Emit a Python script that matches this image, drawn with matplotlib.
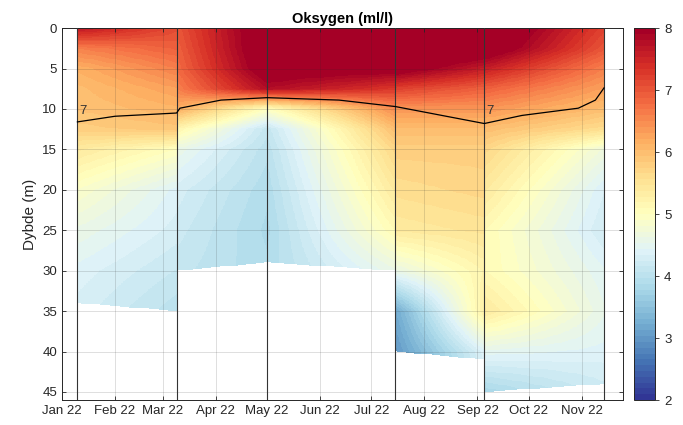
import numpy as np
import matplotlib.pyplot as plt
import matplotlib.dates as mdates

plt.rcParams['font.family'] = ['Liberation Sans', 'DejaVu Sans']

# sampling dates (CTD casts)
stations = np.array(['2022-01-10', '2022-03-09', '2022-05-01',
                     '2022-07-15', '2022-09-05', '2022-11-14'], dtype='datetime64[D]')

depths = [0, 2.5, 5, 7.5, 10, 12.5, 15, 20, 25, 30, 35, 40, 45]
nan = np.nan

# oxygen profiles (ml/l) at the edges of each gridded section
jan      = [7.7, 6.6, 6.15, 6.0, 5.95, 5.8, 5.4, 4.9, 4.6, 4.4, 4.3, nan, nan]
mar_west = [7.1, 6.9, 6.6, 6.3, 6.1, 5.9, 5.0, 4.4, 4.3, 4.15, 4.0, nan, nan]
mar_east = [7.0, 6.9, 6.8, 6.6, 6.2, 5.2, 4.6, 4.3, 4.2, 4.1, nan, nan, nan]
may      = [8.3, 8.3, 8.2, 7.8, 5.0, 4.1, 4.0, 3.9, 3.85, 3.9, nan, nan, nan]
jul_west = [8.4, 8.4, 8.1, 7.3, 6.5, 6.0, 5.7, 5.4, 5.1, 4.6, nan, nan, nan]
jul_east = [8.5, 8.5, 8.2, 7.2, 6.4, 6.0, 5.8, 5.6, 5.4, 4.6, 3.2, 3.0, 3.0]
sep_west = [8.5, 8.3, 7.6, 6.9, 6.4, 6.0, 5.8, 5.7, 5.5, 5.2, 5.3, 4.4, 4.2]
sep_east = [8.5, 8.3, 7.6, 6.9, 6.4, 6.0, 5.7, 5.4, 5.1, 5.1, 5.4, 4.5, 3.8]
nov      = [7.2, 7.0, 6.6, 6.3, 6.0, 5.6, 4.7, 4.35, 4.25, 4.45, 4.55, 4.4, 4.2]

section_profiles = [(jan, mar_west), (mar_east, may), (may, jul_west),
                    (jul_east, sep_west), (sep_east, nov)]
# deepest valid depth at start/end of each section
section_bottom = [(34, 35), (30, 29), (29, 30), (40, 41), (45, 44)]

# 7 ml/l isoline
iso_level = 7
iso_dates = np.array(['2022-01-10', '2022-02-01', '2022-03-09', '2022-03-11',
                      '2022-04-04', '2022-05-01', '2022-06-12', '2022-07-15',
                      '2022-09-05', '2022-09-27', '2022-10-30', '2022-11-09',
                      '2022-11-14'], dtype='datetime64[D]')
iso_depth = [11.6, 10.9, 10.5, 9.9, 8.9, 8.6, 8.9, 9.7, 11.8, 10.8, 9.9, 8.9, 7.4]
iso_label_dates = np.array(['2022-01-10', '2022-09-05'], dtype='datetime64[D]')

month_ticks = np.arange('2022-01', '2022-12', dtype='datetime64[M]').astype('datetime64[D]')

# build the gridded field
st = mdates.date2num(stations)
tx = np.linspace(st[0], st[-1], 800)
zz = np.linspace(0, 46, 470)
field = np.full((zz.size, tx.size), np.nan)
for i, ((left, right), (bl, br)) in enumerate(zip(section_profiles, section_bottom)):
    a, b = st[i], st[i + 1]
    sel = (tx >= a) & (tx <= b)
    frac = (tx[sel] - a) / (b - a)
    lc = np.interp(zz, depths, left)[:, None]
    rc = np.interp(zz, depths, right)[:, None]
    vals = lc * (1 - frac) + rc * frac
    bottom = bl + (br - bl) * frac
    vals[zz[:, None] > bottom] = np.nan
    field[:, sel] = vals
field = np.ma.masked_invalid(field)

fig = plt.figure(figsize=(6.83, 4.25), dpi=100)
ax = fig.add_axes([0.0908, 0.0588, 0.821, 0.875])
cax = fig.add_axes([0.928, 0.0588, 0.031, 0.875])

cmap = plt.get_cmap('RdYlBu_r', 64)
mesh = ax.pcolormesh(tx, zz, field, cmap=cmap, vmin=2, vmax=8, shading='nearest', zorder=1)

for d in stations:
    ax.axvline(d, color='#333333', lw=0.8, zorder=3)

ax.plot(iso_dates, iso_depth, color='black', lw=0.9, zorder=4)
for d in iso_label_dates:
    ax.text(d + np.timedelta64(1, 'D'), 10.2, str(iso_level), fontsize=9.5,
            color='#333333', ha='left', va='center', zorder=5)

ax.set_xlim(np.datetime64('2022-01-01'), np.datetime64('2022-11-25'))
ax.set_ylim(46, 0)
ax.set_yticks(np.arange(0, 46, 5))
ax.set_xticks(month_ticks)
ax.xaxis.set_major_formatter(mdates.DateFormatter('%b %y'))

ax.set_axisbelow(False)
ax.grid(True, color='#262626', alpha=0.15, lw=0.7)
ax.tick_params(direction='in', top=True, right=True, length=3, width=0.6,
               labelsize=9.5, colors='#262626')
for s in ax.spines.values():
    s.set_color('#262626')
    s.set_linewidth(0.7)

ax.set_ylabel('Dybde (m)', fontsize=11, color='#262626')
ax.set_title('Oksygen (ml/l)', fontsize=10.5, fontweight='bold', pad=4)

cb = fig.colorbar(mesh, cax=cax)
cb.set_ticks(range(2, 9))
cb.ax.tick_params(labelsize=9.5, colors='#262626', length=3, width=0.6)
cb.outline.set_edgecolor('#262626')
cb.outline.set_linewidth(0.7)

fig.savefig('out.png', dpi=100)
